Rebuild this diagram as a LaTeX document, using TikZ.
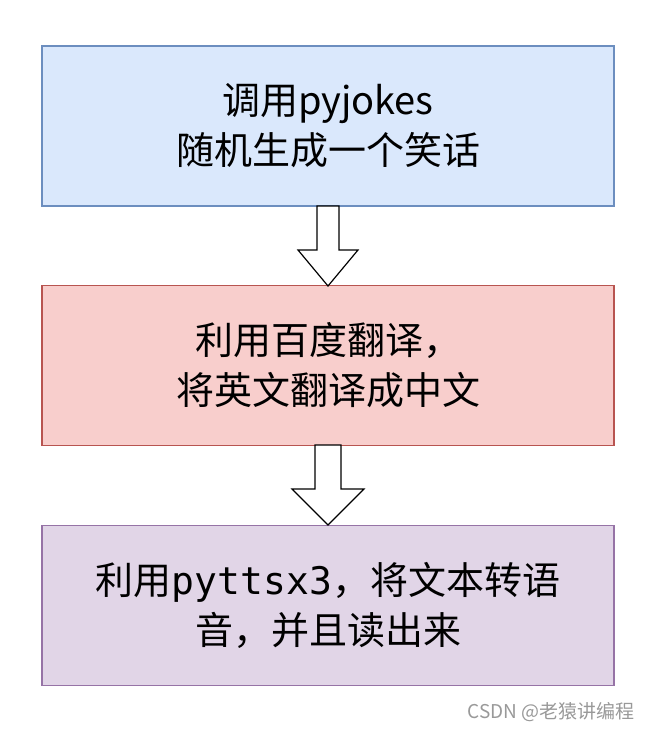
\documentclass[tikz,border=0pt]{standalone}
\usepackage{fontspec}
\newfontfamily\cjk{Noto Sans CJK SC}
\newfontfamily\mono{DejaVu Sans Mono}
\definecolor{bfill}{HTML}{DAE8FC}\definecolor{bline}{HTML}{6C8EBF}
\definecolor{rfill}{HTML}{F8CECC}\definecolor{rline}{HTML}{B85450}
\definecolor{pfill}{HTML}{E1D5E7}\definecolor{pline}{HTML}{9673A6}
\begin{document}
\begin{tikzpicture}[x=1pt,y=-1pt,
  box/.style={draw=#1line,fill=#1fill,line width=1.2pt,minimum width=572pt,minimum height=160pt,inner sep=0pt,align=center,font=\cjk\fontsize{38}{50}\selectfont},
  blockarrow/.style={draw=black,fill=white,line width=1.2pt,line join=miter}]
\useasboundingbox (0,0) rectangle (652,730);
\node[box=b] (b1) at (328,126) {调用pyjokes\\随机生成一个笑话};
\node[box=r] (b2) at (328,365.5) {利用百度翻译，\\将英文翻译成中文};
\node[box=p] (b3) at (328,605.5) {利用{\mono pyttsx3}，将文本转语\\音，并且读出来};
\draw[blockarrow] (317,206) -- (339,206) -- (339,250) -- (358,250) -- (328,286) -- (298,250) -- (317,250) -- cycle;
\draw[blockarrow] (315,445) -- (341,445) -- (341,489) -- (364,489) -- (328,525) -- (292,489) -- (315,489) -- cycle;
\node[anchor=east,text=gray!80,font=\cjk\fontsize{19}{22}\selectfont] (wm) at (638,712) {CSDN @老猿讲编程};
\end{tikzpicture}
\end{document}
